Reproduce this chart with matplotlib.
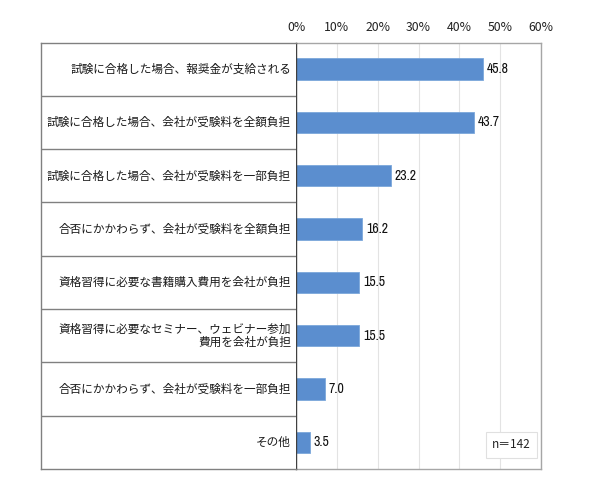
import matplotlib
matplotlib.use("Agg")
import matplotlib.pyplot as plt
from matplotlib import font_manager

plt.rcParams['font.family'] = ['Noto Sans CJK JP', 'DejaVu Sans']

categories = [
    "試験に合格した場合、報奨金が支給される",
    "試験に合格した場合、会社が受験料を全額負担",
    "試験に合格した場合、会社が受験料を一部負担",
    "合否にかかわらず、会社が受験料を全額負担",
    "資格習得に必要な書籍購入費用を会社が負担",
    "資格習得に必要なセミナー、ウェビナー参加\n費用を会社が負担",
    "合否にかかわらず、会社が受験料を一部負担",
    "その他",
]
values = [45.8, 43.7, 23.2, 16.2, 15.5, 15.5, 7.0, 3.5]
tick_values = [0, 10, 20, 30, 40, 50, 60]
tick_labels = ["0%", "10%", "20%", "30%", "40%", "50%", "60%"]
note = "n＝142"

names = sorted({f.name for f in font_manager.fontManager.ttflist})
narrow = [nm for nm in names if 'Narrow' in nm or 'Condensed' in nm]
num_font = narrow[0] if narrow else 'Liberation Sans'
num_stretch = 'normal'
if not narrow:
    num_font = 'DejaVu Sans'
    num_stretch = 'condensed'

W, H = 590, 493
fig = plt.figure(figsize=(W / 100, H / 100), dpi=100)

x0, x1 = 296, 541
xl = 41
y_top, y_bot = 42.5, 469
ax = fig.add_axes([x0 / W, 1 - y_bot / H, (x1 - x0) / W, (y_bot - y_top) / H])
axl = fig.add_axes([xl / W, 1 - y_bot / H, (x0 - xl) / W, (y_bot - y_top) / H])

n = len(categories)
ypos = list(range(n))
ax.barh(ypos, values, height=0.40, color='#5B8ECF', edgecolor='#7BA7DB', linewidth=0.6, zorder=3)
ax.set_ylim(n - 0.5, -0.5)
ax.set_xlim(0, 60)
ax.set_xticks(tick_values)
ax.set_xticklabels(tick_labels, fontsize=8.8, color='#222222')
ax.xaxis.tick_top()
ax.tick_params(axis='x', length=0, pad=6)
ax.set_yticks([])
ax.grid(axis='x', color='#E3E3E3', linewidth=0.8, zorder=0)
for s in ['top', 'right', 'bottom']:
    ax.spines[s].set_color('#A6A6A6')
    ax.spines[s].set_linewidth(1.0)
ax.spines['left'].set_color('#404040')
ax.spines['left'].set_linewidth(1.0)
ax.spines['left'].set_zorder(4)

for y, v in zip(ypos, values):
    ax.text(v + 0.9, y, f"{v:.1f}", va='center', ha='left', fontsize=10,
            family=[num_font, 'DejaVu Sans'], fontstretch=num_stretch, color='#111111')

ax.text(0.88, 0.057, note, transform=ax.transAxes, ha='center', va='center',
        fontsize=8.5, color='#222222',
        bbox=dict(boxstyle='square,pad=0.55', facecolor='white', edgecolor='#E0E0E0', linewidth=0.8),
        zorder=5)

# label table
axl.set_ylim(n - 0.5, -0.5)
axl.set_xlim(0, 1)
axl.set_xticks([])
axl.set_yticks([])
for s in axl.spines.values():
    s.set_color('#808080')
    s.set_linewidth(1.0)
axl.spines['right'].set_visible(False)
for i in range(n - 1):
    axl.axhline(i + 0.5, color='#808080', linewidth=1.0)
for y, c in zip(ypos, categories):
    axl.text(0.98, y, c, ha='right', va='center', fontsize=8.4, color='#1a1a1a',
             linespacing=1.05, multialignment='right')

fig.savefig("out.png", dpi=100)
